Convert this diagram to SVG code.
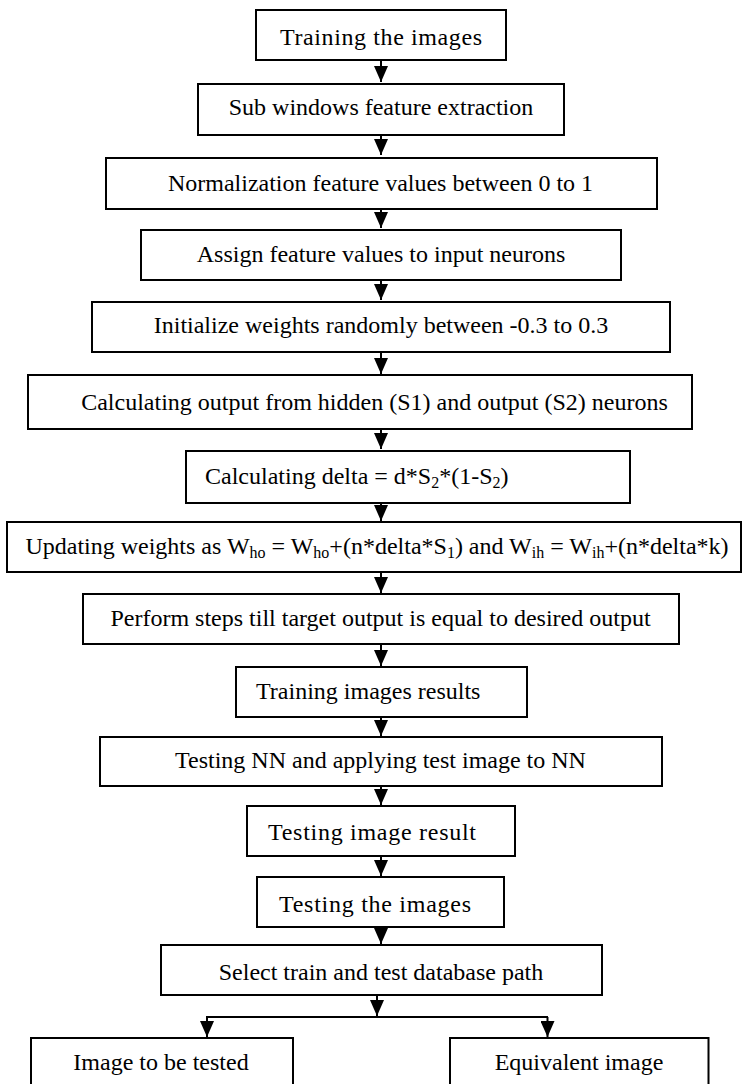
<svg xmlns="http://www.w3.org/2000/svg" width="743" height="1084" viewBox="0 0 743 1084">
<style>
.box{fill:#fff;stroke:#000;stroke-width:2}
.t{font-family:"Liberation Serif","Times New Roman",serif;font-size:24px;fill:#000}
.m{text-anchor:middle}
.c{stroke:#000;stroke-width:2;fill:none}
.s{font-size:16px}
</style>
<defs>
<marker id="ah" viewBox="0 0 16 14" refX="16" refY="7" markerWidth="16" markerHeight="14" markerUnits="userSpaceOnUse" orient="auto">
<path d="M0,0 L16,7 L0,14 z" fill="#000"/>
</marker>
</defs>
<rect width="743" height="1084" fill="#fff"/>
<g id="connectors">
<line class="c" x1="381" y1="60" x2="381" y2="82" marker-end="url(#ah)"/>
<line class="c" x1="381" y1="135" x2="381" y2="155" marker-end="url(#ah)"/>
<line class="c" x1="381" y1="209" x2="381" y2="228" marker-end="url(#ah)"/>
<line class="c" x1="381" y1="280" x2="381" y2="300" marker-end="url(#ah)"/>
<line class="c" x1="381" y1="352" x2="381" y2="374" marker-end="url(#ah)"/>
<line class="c" x1="381" y1="429" x2="381" y2="449" marker-end="url(#ah)"/>
<line class="c" x1="381" y1="503" x2="381" y2="521" marker-end="url(#ah)"/>
<line class="c" x1="381" y1="572" x2="381" y2="593" marker-end="url(#ah)"/>
<line class="c" x1="381" y1="644" x2="381" y2="666" marker-end="url(#ah)"/>
<line class="c" x1="381" y1="717" x2="381" y2="736" marker-end="url(#ah)"/>
<line class="c" x1="381" y1="786" x2="381" y2="805" marker-end="url(#ah)"/>
<line class="c" x1="381" y1="856" x2="381" y2="876" marker-end="url(#ah)"/>
<line class="c" x1="381" y1="927" x2="381" y2="944" marker-end="url(#ah)"/>
<line class="c" x1="377" y1="995" x2="377" y2="1016" marker-end="url(#ah)"/>
<line class="c" x1="206" y1="1017" x2="548" y2="1017"/>
<line class="c" x1="207" y1="1017" x2="207" y2="1037" marker-end="url(#ah)"/>
<line class="c" x1="547.5" y1="1017" x2="547.5" y2="1037" marker-end="url(#ah)"/>
</g>
<g id="n1"><rect class="box" x="256" y="10" width="250" height="50"/><text class="t" x="280" y="45" textLength="202" lengthAdjust="spacing">Training the images</text></g>
<g id="n2"><rect class="box" x="198" y="84" width="366" height="51"/><text class="t m" x="381" y="115">Sub windows feature extraction</text></g>
<g id="n3"><rect class="box" x="106" y="158" width="551" height="51"/><text class="t m" x="380.5" y="191">Normalization feature values between 0 to 1</text></g>
<g id="n4"><rect class="box" x="141" y="230" width="480" height="50"/><text class="t m" x="381" y="262">Assign feature values to input neurons</text></g>
<g id="n5"><rect class="box" x="92" y="302" width="578" height="50"/><text class="t m" x="381" y="333">Initialize weights randomly between -0.3 to 0.3</text></g>
<g id="n6"><rect class="box" x="28" y="375" width="664" height="54"/><text class="t m" x="374.5" y="410">Calculating output from hidden (S1) and output (S2) neurons</text></g>
<g id="n7"><rect class="box" x="186" y="451" width="444" height="52"/><text class="t" x="205" y="484">Calculating delta = d*S<tspan class="s" dy="4">2</tspan><tspan dy="-4">*(1-S</tspan><tspan class="s" dy="4">2</tspan><tspan dy="-4">)</tspan></text></g>
<g id="n8"><rect class="box" x="7" y="522" width="734" height="50"/><text class="t m" x="377" y="554">Updating weights as W<tspan class="s" dy="4">ho</tspan><tspan dy="-4"> = W</tspan><tspan class="s" dy="4">ho</tspan><tspan dy="-4">+(n*delta*S</tspan><tspan class="s" dy="4">1</tspan><tspan dy="-4">) and W</tspan><tspan class="s" dy="4">ih</tspan><tspan dy="-4"> = W</tspan><tspan class="s" dy="4">ih</tspan><tspan dy="-4">+(n*delta*k)</tspan></text></g>
<g id="n9"><rect class="box" x="83" y="594" width="596" height="50"/><text class="t m" x="380.5" y="626">Perform steps till target output is equal to desired output</text></g>
<g id="n10"><rect class="box" x="236" y="667" width="291" height="50"/><text class="t" x="256" y="699">Training images results</text></g>
<g id="n11"><rect class="box" x="100" y="737" width="562" height="49"/><text class="t m" x="380.5" y="768">Testing NN and applying test image to NN</text></g>
<g id="n12"><rect class="box" x="247" y="806" width="268" height="50"/><text class="t" x="268" y="840" textLength="208" lengthAdjust="spacing">Testing image result</text></g>
<g id="n13"><rect class="box" x="257" y="877" width="247" height="50"/><text class="t" x="279" y="912" textLength="192" lengthAdjust="spacing">Testing the images</text></g>
<g id="n14"><rect class="box" x="161" y="945" width="441" height="50"/><text class="t m" x="381" y="980">Select train and test database path</text></g>
<g id="n15"><rect class="box" x="31" y="1038" width="262" height="60"/><text class="t m" x="161" y="1070">Image to be tested</text></g>
<g id="n16"><rect class="box" x="450" y="1038" width="258.5" height="60"/><text class="t m" x="579" y="1070">Equivalent image</text></g>
</svg>
